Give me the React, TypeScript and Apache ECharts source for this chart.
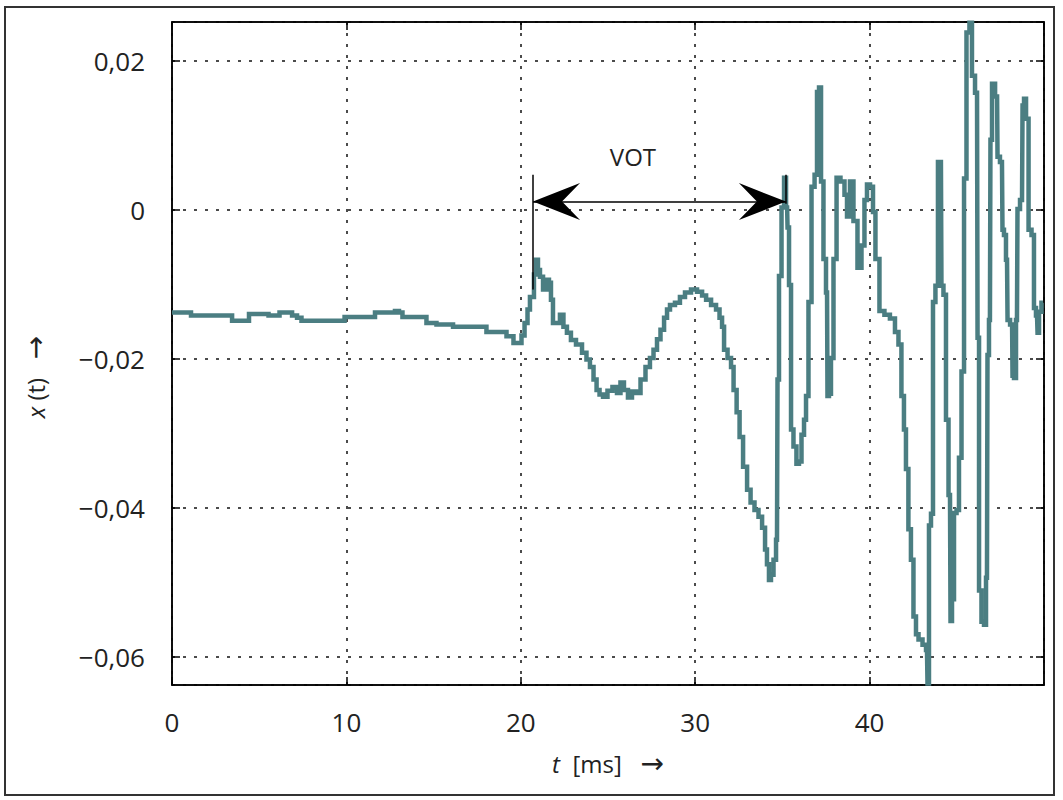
import * as echarts from 'echarts';
import { useEffect, useRef } from 'react';

// closure phase, 0–20 ms (t in ms, x(t) amplitude)
const closureT = [0, 1.03, 1.15, 3.33, 3.56, 4.3, 4.53, 5.45, 5.62, 6.08, 6.25, 6.77, 7.0, 7.34, 7.51, 9.81, 9.98, 11.53, 11.75, 12.67, 12.9, 13.13, 13.3, 14.39, 14.79, 15.54, 16.69, 17.83, 18.23, 18.98, 19.38, 19.78, 19.95];
const closureX = [-0.0138, -0.0138, -0.0142, -0.0142, -0.0149, -0.0149, -0.014, -0.014, -0.0142, -0.0142, -0.0138, -0.0138, -0.0142, -0.0145, -0.0149, -0.0149, -0.0144, -0.0144, -0.0138, -0.0138, -0.0136, -0.0138, -0.0144, -0.0144, -0.0152, -0.0154, -0.0157, -0.0157, -0.0164, -0.0164, -0.017, -0.0179, -0.0179];

// burst + aspiration, 20–35 ms
const burstT = [20.13, 20.3, 20.47, 20.58, 20.7, 20.81, 20.93, 21.04, 21.16, 21.39, 21.56, 21.67, 21.79, 21.9, 22.13, 22.36, 22.53, 22.76, 22.99, 23.34, 23.68, 23.85, 24.08, 24.26, 24.43, 24.6, 24.83, 25.11, 25.4, 25.63, 25.8, 26.03, 26.26, 26.49, 26.72, 27.01, 27.29, 27.52, 27.7, 27.92, 28.1, 28.33, 28.44, 28.67, 29.01, 29.24, 29.59, 29.93, 30.28, 30.51, 30.74, 31.08, 31.31, 31.48, 31.6, 31.71, 32.0, 32.11, 32.29, 32.46, 32.63, 32.86, 33.09, 33.26, 33.54, 33.72, 33.95, 34.06, 34.17, 34.29, 34.4, 34.58, 34.69, 34.75, 34.86, 35.04, 35.15];
const burstX = [-0.0169, -0.0152, -0.0134, -0.0117, -0.0117, -0.0087, -0.0067, -0.0081, -0.009, -0.0107, -0.0094, -0.0098, -0.0121, -0.0152, -0.0152, -0.0141, -0.0157, -0.0165, -0.0175, -0.0181, -0.0192, -0.0201, -0.0211, -0.0228, -0.0242, -0.0248, -0.0251, -0.0243, -0.0238, -0.0246, -0.0232, -0.0242, -0.0252, -0.0244, -0.0246, -0.0228, -0.0211, -0.0199, -0.0188, -0.0174, -0.0161, -0.0145, -0.0134, -0.0128, -0.0125, -0.0117, -0.0111, -0.0107, -0.011, -0.0115, -0.0121, -0.0128, -0.0134, -0.0145, -0.0157, -0.0188, -0.0199, -0.0211, -0.0242, -0.0272, -0.0305, -0.0345, -0.0376, -0.0393, -0.0403, -0.0412, -0.0427, -0.0456, -0.0476, -0.0497, -0.049, -0.047, -0.0443, -0.0228, -0.0089, 0.0003, 0.0043];

// voicing, 35–50 ms
const voicingT = [35.27, 35.32, 35.44, 35.55, 35.72, 35.89, 36.01, 36.18, 36.3, 36.41, 36.58, 36.76, 36.93, 37.04, 37.16, 37.27, 37.44, 37.56, 37.61, 37.73, 37.84, 38.02, 38.19, 38.47, 38.65, 38.76, 38.99, 39.16, 39.45, 39.62, 39.79, 39.91, 40.14, 40.25, 40.42, 40.71, 40.99, 41.34, 41.57, 41.74, 41.91, 42.03, 42.14, 42.31, 42.43, 42.6, 42.72, 42.89, 43.18, 43.29, 43.35, 43.46, 43.58, 43.69, 43.86, 43.98, 44.09, 44.15, 44.32, 44.44, 44.61, 44.67, 44.78, 44.9, 45.07, 45.18, 45.36, 45.47, 45.64, 45.81, 45.93, 46.16, 46.22, 46.33, 46.5, 46.62, 46.73, 46.79, 46.9, 46.96, 47.08, 47.31, 47.36, 47.59, 47.65, 47.76, 47.88, 47.94, 48.17, 48.22, 48.34, 48.45, 48.51, 48.74, 48.8, 48.91, 49.03, 49.2, 49.37, 49.48, 49.6, 49.66, 49.77, 49.94];
const voicingX = [0.0003, -0.0024, -0.0101, -0.0295, -0.0318, -0.0341, -0.0338, -0.0302, -0.0282, -0.025, -0.0124, 0.0031, 0.0047, 0.0158, 0.0164, 0.0038, -0.0066, -0.0111, -0.025, -0.0247, -0.0199, -0.0066, 0.0043, 0.0038, 0.002, -0.0009, 0.0038, -0.0015, -0.0078, -0.0048, 0.0013, 0.0034, 0.0031, -0.0003, -0.0066, -0.0136, -0.0141, -0.0146, -0.0164, -0.0181, -0.025, -0.0295, -0.0348, -0.0429, -0.047, -0.0546, -0.057, -0.0577, -0.0584, -0.0591, -0.0636, -0.0424, -0.0408, -0.0124, -0.0102, 0.0064, 0.0064, -0.0102, -0.0114, -0.0282, -0.0383, -0.0552, -0.0523, -0.0407, -0.0403, -0.0333, -0.0217, 0.0042, 0.0238, 0.0251, 0.018, 0.0157, -0.0172, -0.0511, -0.0553, -0.0557, -0.0494, -0.0195, -0.0148, 0.0094, 0.0169, 0.0152, 0.0071, 0.0064, -0.0027, -0.0034, -0.0067, -0.0148, -0.0154, -0.0223, -0.0226, -0.0148, 0.0001, 0.0013, 0.014, 0.0149, 0.0122, -0.0027, -0.0034, -0.0132, -0.0142, -0.0165, -0.0137, -0.0125];

// VOT annotation: release and voicing onset (ms), marker heights
const votStart = 20.7;
const votEnd = 35.2;
const votArrowY = 0.0011;
const votTopY = 0.0047;
const votReleaseBottomY = -0.0107;
const votOnsetBottomY = 0.0008;
const votLabelAt = [26.43, 0.0071];

const FONT = 'Open Sans';
const TEXT = '#222';
const TRACE = '#4b7e82';
const ARROW = 'path://M0,0 L18.5,47 L0,29 L-18.5,47 Z';

const fmtY = (v: number) => {
  if (Math.abs(v) < 1e-9) return '0';
  return (v < 0 ? '\u2212' : '') + Math.abs(v).toFixed(2).replace('.', ',');
};

const zip = (t: number[], x: number[]) => t.map((ti, i) => [ti, x[i]]);

const nameRich = {
  i: { fontStyle: 'italic', fontSize: 24, color: TEXT, fill: TEXT, fontFamily: FONT },
  a: { fontSize: 28, color: TEXT, fill: TEXT, fontFamily: 'DejaVu Sans' },
};

export default function App() {
  const ref = useRef<HTMLDivElement | null>(null);

  useEffect(() => {
    if (!ref.current) return undefined;
    const chart = echarts.init(ref.current, undefined, { renderer: 'svg' });

    const data = [
      ...zip(closureT, closureX),
      ...zip(burstT, burstX),
      ...zip(voicingT, voicingX),
    ];

    const frameLine = { color: '#000', width: 1.5 };
    const grid = { color: '#111', width: 1.5, type: [3, 8] as number[] };

    chart.setOption({
      animation: false,
      backgroundColor: '#fff',
      textStyle: { fontFamily: FONT },
      grid: {
        left: 172,
        top: 22,
        width: 872,
        height: 663,
        show: true,
        borderColor: '#000',
        borderWidth: 1.5,
        backgroundColor: 'transparent',
      },
      xAxis: [
        {
          type: 'value',
          position: 'bottom',
          min: 0,
          max: 50,
          interval: 10,
          axisLine: { show: true, onZero: false, lineStyle: frameLine },
          axisTick: { show: true, inside: true, length: 8, lineStyle: frameLine },
          axisLabel: { show: true, margin: 24, fontSize: 26, color: TEXT, fontFamily: FONT, showMaxLabel: false },
          splitLine: { show: true, lineStyle: grid },
          name: '{i|t}  [ms]   {a|\u2192}',
          nameLocation: 'middle',
          nameGap: 64,
          nameTextStyle: { fontSize: 24, color: TEXT, fontFamily: FONT, rich: nameRich },
        },
        {
          type: 'value',
          position: 'top',
          min: 0,
          max: 50,
          interval: 10,
          axisLine: { show: true, onZero: false, lineStyle: frameLine },
          axisTick: { show: true, inside: true, length: 8, lineStyle: frameLine },
          axisLabel: { show: false },
          splitLine: { show: false },
        },
      ],
      yAxis: [
        {
          type: 'value',
          position: 'left',
          min: -0.0638,
          max: 0.0252,
          splitNumber: 5,
          axisLine: { show: true, onZero: false, lineStyle: frameLine },
          axisTick: { show: true, inside: true, length: 8, lineStyle: frameLine },
          axisLabel: {
            show: true,
            margin: 27,
            fontSize: 26,
            color: TEXT,
            fontFamily: FONT,
            showMinLabel: false,
            showMaxLabel: false,
            formatter: fmtY,
          },
          splitLine: { show: true, lineStyle: grid },
        },
        {
          type: 'value',
          position: 'right',
          min: -0.0638,
          max: 0.0252,
          splitNumber: 5,
          axisLine: { show: true, onZero: false, lineStyle: frameLine },
          axisTick: { show: true, inside: true, length: 8, lineStyle: frameLine },
          axisLabel: { show: false },
          splitLine: { show: false },
        },
      ],
      graphic: [
        {
          type: 'rect',
          shape: { x: 5, y: 7, width: 1049, height: 788 },
          style: { fill: 'none', stroke: '#333', lineWidth: 2 },
          silent: true,
        },
        {
          type: 'text',
          x: 35,
          y: 377,
          rotation: Math.PI / 2,
          style: {
            text: '{i|x} (t)   {a|\u2192}',
            fill: TEXT,
            fontSize: 24,
            fontFamily: FONT,
            align: 'center',
            verticalAlign: 'middle',
            textAlign: 'center',
            textVerticalAlign: 'middle',
            rich: nameRich,
          },
          silent: true,
        },
      ],
      series: [
        {
          type: 'line',
          xAxisIndex: 0,
          yAxisIndex: 0,
          data,
          step: 'middle',
          showSymbol: false,
          symbol: 'none',
          clip: true,
          lineStyle: { color: TRACE, width: 4.5, join: 'miter' },
          markLine: {
            silent: true,
            symbol: 'none',
            label: { show: false },
            lineStyle: { color: '#000', width: 1.5, type: 'solid' },
            emphasis: { disabled: true },
            data: [
              [{ coord: [votStart, votTopY] }, { coord: [votStart, votReleaseBottomY] }],
              [{ coord: [votEnd, votTopY] }, { coord: [votEnd, votOnsetBottomY] }],
              [
                { coord: [votStart, votArrowY], symbol: ARROW, symbolSize: [37, 47], symbolOffset: [0, 23.5] },
                { coord: [votEnd, votArrowY], symbol: ARROW, symbolSize: [37, 47], symbolOffset: [0, 23.5] },
              ],
            ],
          },
          markPoint: {
            silent: true,
            symbol: 'circle',
            symbolSize: 1,
            itemStyle: { color: 'rgba(0,0,0,0)' },
            label: { show: true, position: 'inside', formatter: 'VOT', fontSize: 24, color: TEXT, fontFamily: FONT },
            data: [{ coord: votLabelAt, value: 'VOT' }],
          },
        },
      ],
    });

    return () => {
      chart.dispose();
    };
  }, []);

  return (
    <div
      ref={ref}
      style={{ position: 'absolute', left: 0, top: 0, width: 1063, height: 800 }}
    />
  );
}
